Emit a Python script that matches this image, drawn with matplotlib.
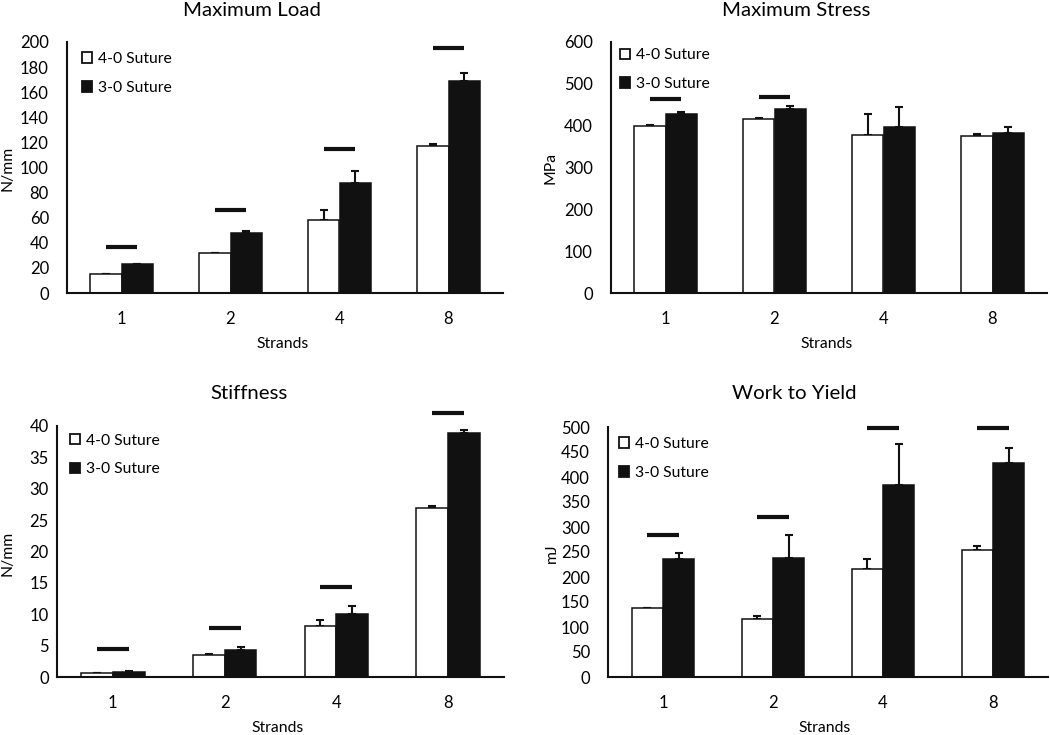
import matplotlib.pyplot as plt
from matplotlib.patches import Patch
import numpy as np

plt.rcParams['font.family'] = ['Lato', 'DejaVu Sans']

strands = ['1', '2', '4', '8']
series_names = ['4-0 Suture', '3-0 Suture']

# Maximum Load (N/mm)
load_40 = [15.4, 32.1, 58.4, 116.9]
load_40_err = [0.0, 0.0, 8.0, 1.6]
load_30 = [23.4, 48.1, 87.4, 168.7]
load_30_err = [0.0, 1.0, 10.1, 6.6]
load_sig = [36.7, 66.4, 114.5, 195.0]

# Maximum Stress (MPa)
stress_40 = [400, 415, 377, 374.5]
stress_40_err = [1, 2.5, 50, 4.5]
stress_30 = [427, 439, 396, 382]
stress_30_err = [5, 7, 48, 14]
stress_sig = [463, 468.5, None, None]

# Stiffness (N/mm)
stiff_40 = [0.6, 3.5, 8.2, 27.0]
stiff_40_err = [0.1, 0.2, 0.9, 0.3]
stiff_30 = [0.8, 4.3, 10.0, 38.9]
stiff_30_err = [0.1, 0.5, 1.3, 0.5]
stiff_sig = [4.4, 7.8, 14.3, 42.0]

# Work to Yield (mJ)
work_40 = [139, 117, 217, 255]
work_40_err = [0, 6, 18.6, 6.6]
work_30 = [237, 239, 385, 429]
work_30_err = [12, 45, 81, 30]
work_sig = [284, 320, 498, 499]

BLACK = '#111111'
W = 0.285


def panel(fig, rect, title, title_xy, ylabel, ylabel_xy, xlabel_xy,
          white, white_err, black, black_err, sig, ymax, ystep, ypad, leg_anchor):
    ax = fig.add_axes(rect)
    x = np.arange(len(strands))
    ax.bar(x - W / 2, white, W, color='white', edgecolor=BLACK, linewidth=1.1, zorder=2)
    ax.bar(x + W / 2, black, W, color=BLACK, edgecolor=BLACK, linewidth=1.1, zorder=2)
    ax.errorbar(x - W / 2, white, yerr=[np.zeros(len(x)), white_err], fmt='none',
                ecolor=BLACK, elinewidth=1.5, capsize=3, capthick=1.5, zorder=1)
    ax.errorbar(x + W / 2, black, yerr=[np.zeros(len(x)), black_err], fmt='none',
                ecolor=BLACK, elinewidth=1.5, capsize=3, capthick=1.5, zorder=1)
    for xi, s in zip(x, sig):
        if s is not None:
            ax.hlines(s, xi - W / 2, xi + W / 2, colors=BLACK, linewidth=3, clip_on=False)

    ax.set_xlim(-0.5, len(strands) - 0.5)
    ax.set_ylim(0, ymax)
    ax.set_yticks(np.arange(0, ymax + ystep / 2, ystep))
    ax.set_xticks(x)
    ax.set_xticklabels(strands)
    ax.tick_params(axis='y', length=0, pad=ypad, labelsize=12)
    ax.tick_params(axis='x', length=0, pad=13, labelsize=12)
    for side in ['top', 'right']:
        ax.spines[side].set_visible(False)
    for side in ['left', 'bottom']:
        ax.spines[side].set_linewidth(1.5)
        ax.spines[side].set_color(BLACK)

    handles = [Patch(facecolor='white', edgecolor=BLACK, linewidth=1.3),
               Patch(facecolor=BLACK, edgecolor=BLACK, linewidth=1.3)]
    ax.legend(handles, series_names, loc='upper left', bbox_to_anchor=leg_anchor,
              frameon=False, fontsize=11.3, handlelength=0.65, handleheight=0.65,
              handletextpad=0.35, labelspacing=0.95, borderpad=0, borderaxespad=0)

    fig.text(title_xy[0] / 1050, 1 - title_xy[1] / 735, title, ha='center', va='center', fontsize=14.7)
    fig.text(xlabel_xy[0] / 1050, 1 - xlabel_xy[1] / 735, 'Strands', ha='center', va='center', fontsize=11.3)
    fig.text(ylabel_xy[0] / 1050, 1 - ylabel_xy[1] / 735, ylabel, ha='center', va='center',
             rotation=90, fontsize=11.3)
    return ax


fig = plt.figure(figsize=(10.5, 7.35), dpi=100)

panel(fig, [67 / 1050, 1 - 293 / 735, 436 / 1050, 251 / 735], 'Maximum Load', (252, 10),
      'N/mm', (8, 168), (283, 344), load_40, load_40_err, load_30, load_30_err, load_sig,
      200, 20, 13, (0.034, 0.96))
panel(fig, [611 / 1050, 1 - 293 / 735, 436 / 1050, 251 / 735], 'Maximum Stress', (796, 10),
      'MPa', (551, 168), (827, 344), stress_40, stress_40_err, stress_30, stress_30_err, stress_sig,
      600, 100, 13, (0.021, 0.975))
panel(fig, [57 / 1050, 1 - 677 / 735, 447 / 1050, 251 / 735], 'Stiffness', (249, 394),
      'N/mm', (8, 553), (278, 728), stiff_40, stiff_40_err, stiff_30, stiff_30_err, stiff_sig,
      40, 5, 6, (0.029, 0.97))
panel(fig, [608 / 1050, 1 - 677 / 735, 440 / 1050, 250 / 735], 'Work to Yield', (794, 394),
      'mJ', (552, 553), (825, 728), work_40, work_40_err, work_30, work_30_err, work_sig,
      500, 50, 13, (0.025, 0.96))

fig.savefig('out.png', dpi=100)
